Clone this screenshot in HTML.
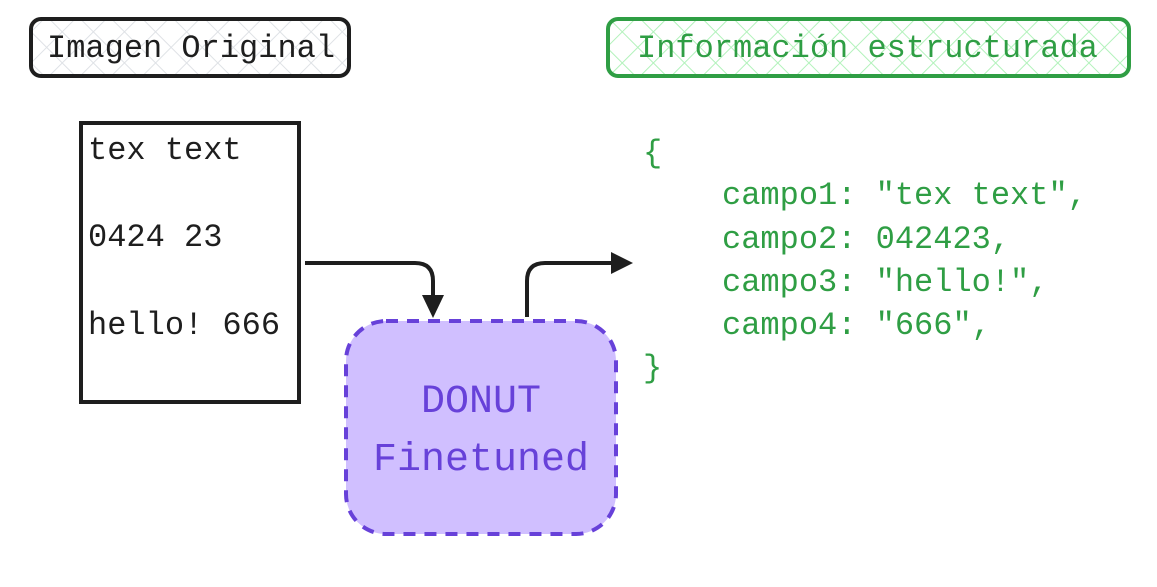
<!DOCTYPE html>
<html><head><meta charset="utf-8"><style>html,body{margin:0;padding:0;background:#fff}svg{display:block}</style></head>
<body>
<svg width="1157" height="587" viewBox="0 0 1157 587" xmlns="http://www.w3.org/2000/svg" font-family="Liberation Mono, monospace">
<defs>
<pattern id="hb" width="22" height="22" patternUnits="userSpaceOnUse" patternTransform="rotate(45)">
<path d="M0 0H22M0 0V22" stroke="#dfe2e6" stroke-width="2"/></pattern>
<pattern id="hg" width="22" height="22" patternUnits="userSpaceOnUse" patternTransform="rotate(45)">
<path d="M0 0H22M0 0V22" stroke="#b2f2bb" stroke-width="2"/></pattern>
</defs>
<rect x="31" y="19" width="318" height="57" rx="10" fill="url(#hb)" stroke="#1e1e1e" stroke-width="4"/>
<text x="47" y="57" font-size="32" fill="#1e1e1e">Imagen Original</text>
<rect x="608" y="19" width="521" height="57" rx="10" fill="url(#hg)" stroke="#2f9e44" stroke-width="4"/>
<text x="637" y="57" font-size="32" fill="#2f9e44">Información estructurada</text>
<rect x="81" y="123" width="218" height="279" fill="#fff" stroke="#1e1e1e" stroke-width="4"/>
<g font-size="32" fill="#1e1e1e">
<text x="88" y="159">tex text</text>
<text x="88" y="246">0424 23</text>
<text x="88" y="334">hello! 666</text>
</g>
<rect x="346" y="321" width="270" height="213" rx="40" fill="#d0bfff" stroke="#6741d9" stroke-width="4" stroke-dasharray="12 9"/>
<g font-size="40" fill="#6741d9" text-anchor="middle">
<text x="481" y="412">DONUT</text>
<text x="481" y="470">Finetuned</text>
</g>
<path d="M305 263H415Q433 263 433 281V300" fill="none" stroke="#1e1e1e" stroke-width="4"/>
<path d="M422 295L444 295L433 318Z" fill="#1e1e1e"/>
<path d="M527 317V281Q527 263 545 263H612" fill="none" stroke="#1e1e1e" stroke-width="4"/>
<path d="M611 252L633 263L611 274Z" fill="#1e1e1e"/>
<g font-size="32" fill="#2f9e44">
<text x="643" y="162">{</text>
<text x="722" y="204">campo1: "tex text",</text>
<text x="722" y="248">campo2: 042423,</text>
<text x="722" y="291">campo3: "hello!",</text>
<text x="722" y="334">campo4: "666",</text>
<text x="643" y="377">}</text>
</g>
</svg>
</body></html>
